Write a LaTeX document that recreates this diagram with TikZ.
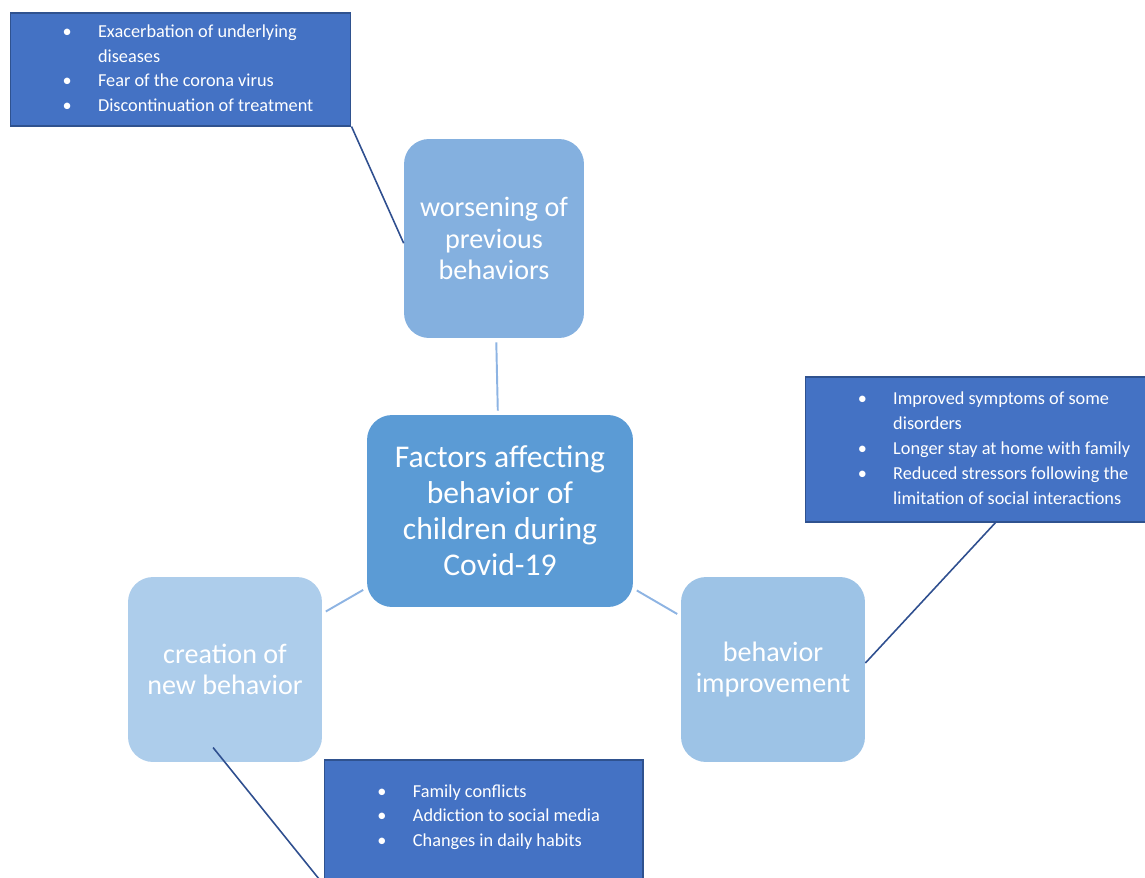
\documentclass[tikz,border=0pt]{standalone}
\usepackage{fontspec}
\setmainfont{Carlito}
\usepackage{array}
\usetikzlibrary{positioning,calc}

\definecolor{notefill}{HTML}{4472C4}
\definecolor{notedraw}{HTML}{2F528F}
\definecolor{corefill}{HTML}{5B9BD5}
\definecolor{worsefill}{HTML}{84B0DF}
\definecolor{newfill}{HTML}{ADCDEB}
\definecolor{betterfill}{HTML}{9DC3E6}
\definecolor{linklight}{HTML}{8EB4E3}
\definecolor{linkdark}{HTML}{2F4F8F}

% bullet list: left skip, text width, rows
\newcommand{\bulletlist}[3]{%
  \begin{tabular}{@{\hspace{#1}}c@{\hspace{15pt}}>{\raggedright\arraybackslash}p{#2}@{}}#3\end{tabular}}

\begin{document}
\begin{tikzpicture}[
    x=0.02cm, y=-0.02cm,
    corenode/.style={rectangle, fill=corefill, rounded corners=0.5cm, inner sep=0pt, text=white, align=center, font=\fontsize{18}{20.5}\selectfont},
    subnode/.style={rectangle, rounded corners=0.5cm, inner sep=0pt, text=white, align=center, font=\fontsize{16}{17.8}\selectfont},
    notebox/.style={rectangle, fill=notefill, draw=notedraw, line width=0.6pt, inner sep=0pt, text=white, font=\fontsize{10.4}{14.2}\selectfont},
    link/.style={draw=linklight, line width=1.1pt, shorten <=0.08cm, shorten >=0.08cm},
    notelink/.style={draw=linkdark, line width=0.9pt}
]
\useasboundingbox (0,0) rectangle (1145,878);
\clip (0,0) rectangle (1145,878);

% ============ CENTRE ============
\node[corenode, minimum width=5.32cm, minimum height=3.84cm] (factors) at (500,511) {Factors affecting\\behavior of\\children during\\Covid-19};

% ============ FACTEURS ============
\node[subnode, fill=worsefill, minimum width=3.6cm, minimum height=3.98cm] (worsening) at (494,238.5) {worsening of\\previous\\behaviors};
\node[subnode, fill=newfill, minimum width=3.88cm, minimum height=3.7cm] (creation) at (225,669.5) {creation of\\new behavior};
\node[subnode, fill=betterfill, minimum width=3.68cm, minimum height=3.7cm] (improvement) at (773,669.5) {behavior\\improvement};

% ============ NOTES ============
\node[notebox, minimum width=6.82cm, minimum height=2.26cm] (worse-notes) at (180.5,69.5) {\bulletlist{14pt}{4.5cm}{%
  \textbullet & Exacerbation of underlying diseases\\
  \textbullet & Fear of the corona virus\\
  \textbullet & Discontinuation of treatment}};
\node[notebox, minimum width=6.84cm, minimum height=2.9cm] (improve-notes) at (976,449.5) {\bulletlist{25pt}{4.9cm}{%
  \textbullet & Improved symptoms of some disorders\\
  \textbullet & Longer stay at home with family\\
  \textbullet & Reduced stressors following the limitation of social interactions}};
\node[notebox, minimum width=6.38cm, minimum height=2.48cm] (new-notes) at (483.5,822) {\bulletlist{19pt}{4.2cm}{%
  \textbullet & Family conflicts\\
  \textbullet & Addiction to social media\\
  \textbullet & Changes in daily habits\\[5.7pt]}};

% ============ CONNEXIONS ============
% Centre -> facteurs
\draw[link] (worsening) -- (factors);
\draw[link] (factors) -- (creation);
\draw[link] (factors) -- (improvement);

% Notes -> facteurs
\draw[notelink] (worse-notes.south east) -- (worsening.183);
\draw[notelink] (improve-notes.-75) -- (improvement.4);
\draw[notelink, shorten <=-0.38cm] (creation.south) -- (new-notes.south west);

\end{tikzpicture}
\end{document}
